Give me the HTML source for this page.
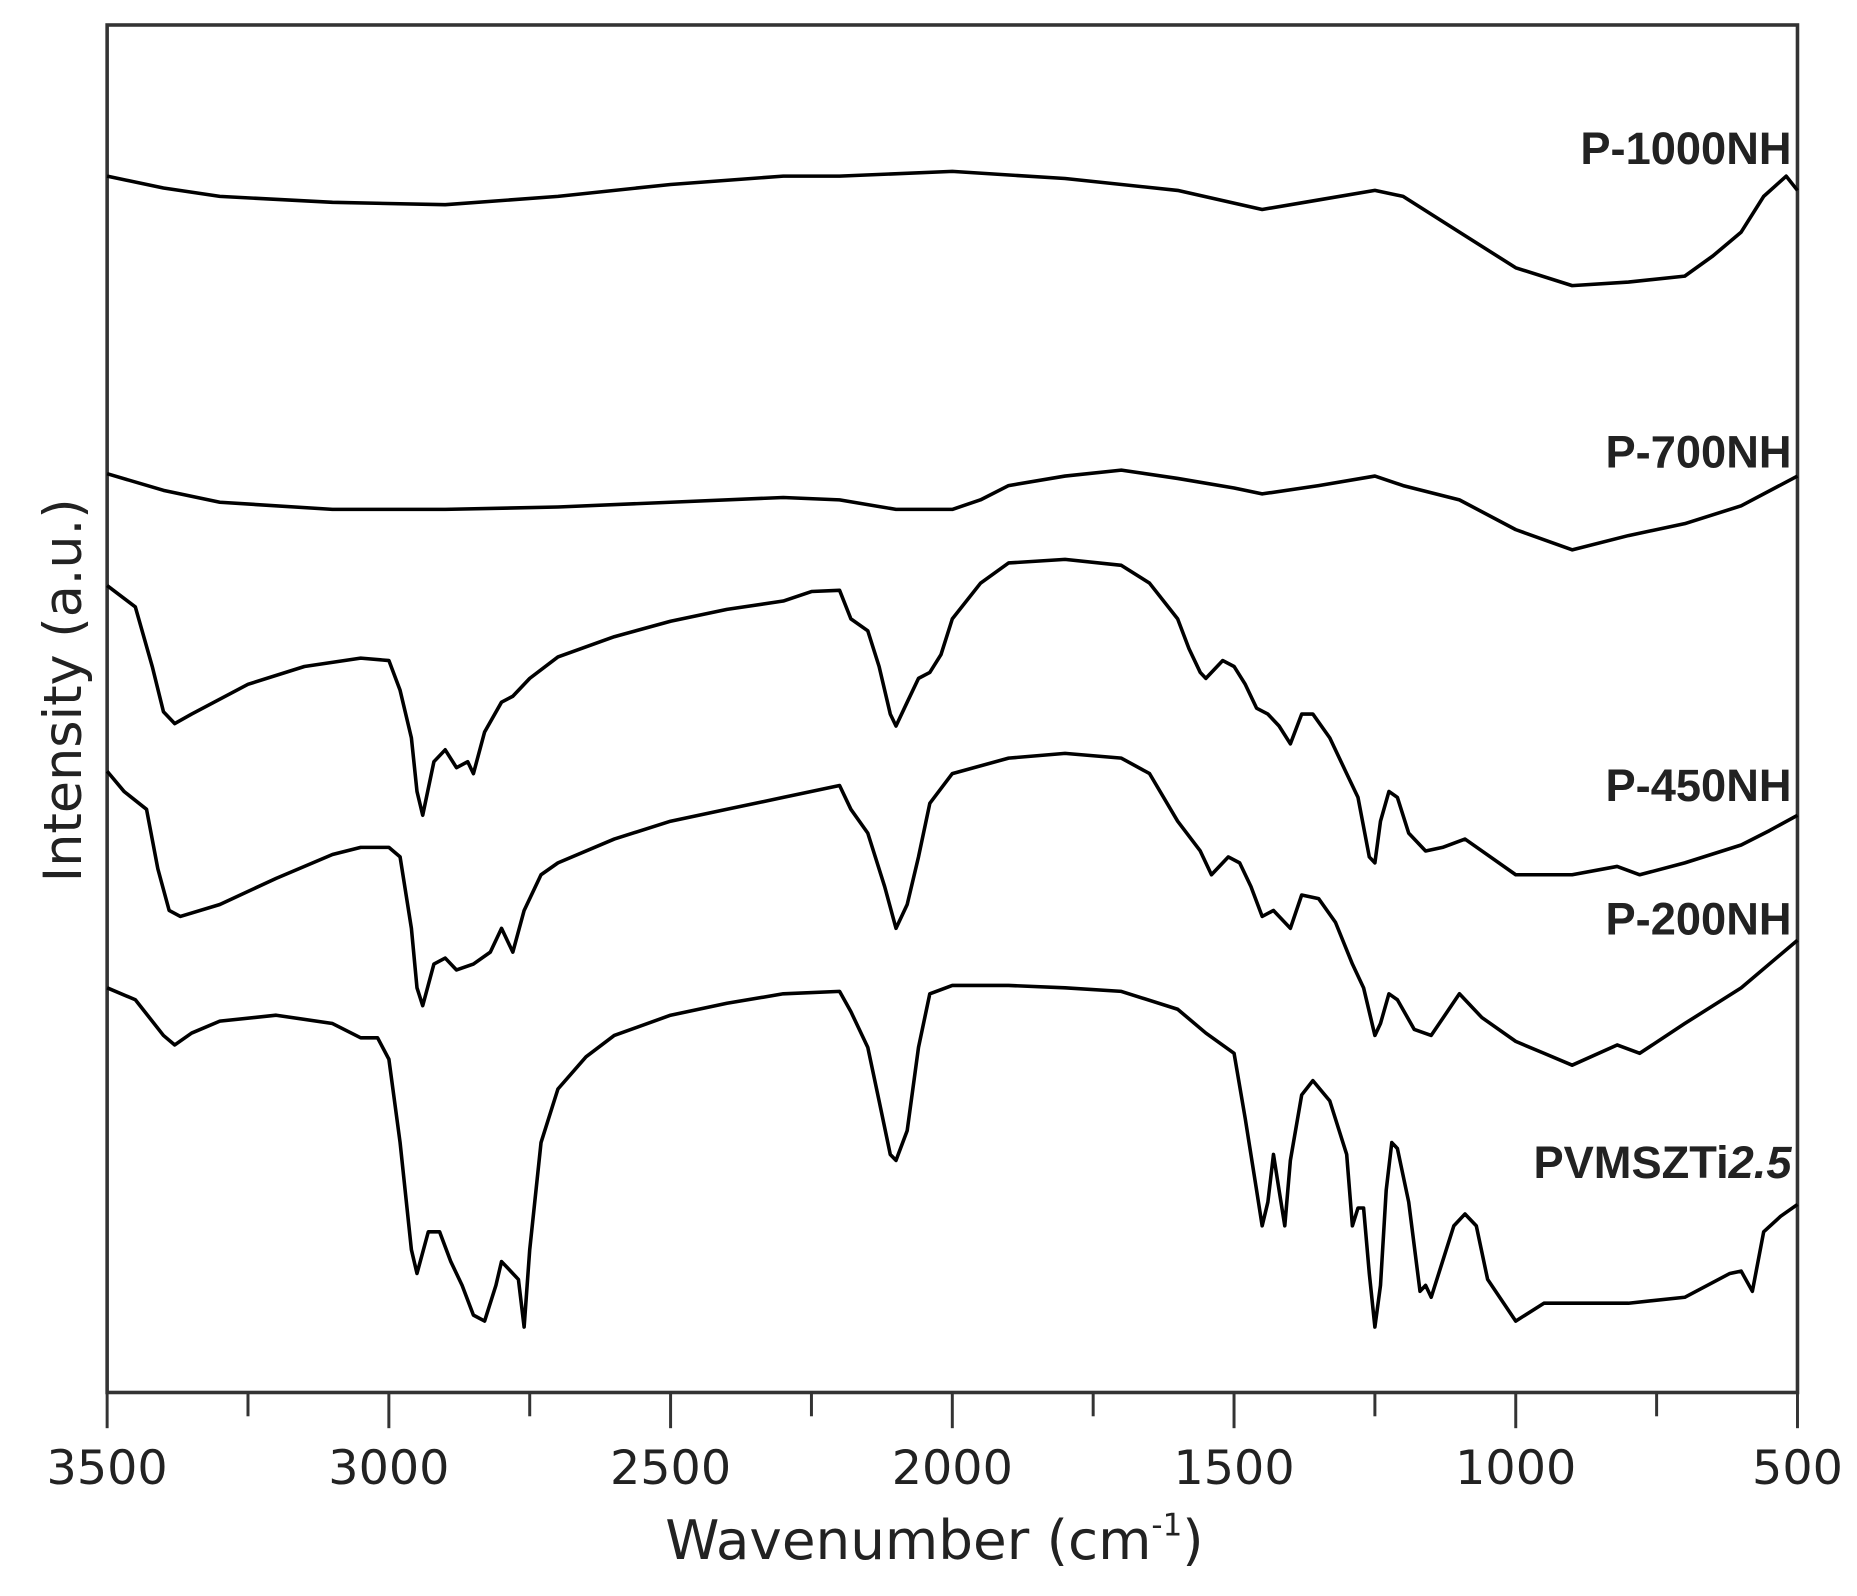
<!DOCTYPE html>
<html><head><meta charset="utf-8"><style>
html,body{margin:0;padding:0;background:#fff;}
svg{display:block;}
</style></head><body>
<svg id="s" width="1857" height="1596" viewBox="0 0 1560 1341" preserveAspectRatio="none" xmlns="http://www.w3.org/2000/svg">
<rect x="0" y="0" width="1560" height="1341" fill="#fff"/>
<rect x="90" y="21" width="1420" height="1149" fill="none" stroke="#333" stroke-width="3"/>
<g id="ticks" stroke="#333" stroke-width="2.5"></g>
<g id="curves" fill="none" stroke="#000" stroke-width="3" stroke-linejoin="round"></g>
<g font-family="'DejaVu Sans','Liberation Sans',sans-serif" font-size="40" fill="#222" text-anchor="middle">
<text x="90" y="1247">3500</text><text x="326.7" y="1247">3000</text><text x="563.3" y="1247">2500</text>
<text x="800" y="1247">2000</text><text x="1036.7" y="1247">1500</text><text x="1273.3" y="1247">1000</text>
<text x="1510" y="1247">500</text>
<text x="785" y="1310" font-size="46">Wavenumber (cm<tspan dy="-20" font-size="26">-1</tspan><tspan dy="20">)</tspan></text>
<text transform="translate(68,580) rotate(-90)" font-size="44">Intensity (a.u.)</text>
</g>
<g font-family="'Liberation Sans',sans-serif" font-weight="bold" font-size="38" fill="#222" text-anchor="end">
<text x="1505" y="138">P-1000NH</text>
<text x="1505" y="393">P-700NH</text>
<text x="1505" y="673">P-450NH</text>
<text x="1505" y="785">P-200NH</text>
<text x="1505" y="990">PVMSZTi<tspan font-style="italic">2.5</tspan></text>
</g>
</svg>
<script>
var ns="http://www.w3.org/2000/svg";
function X(w){return 90+(3500-w)*1420/3000;}
var tg=document.getElementById('ticks');
for(var w=3500;w>=500;w-=250){var l=document.createElementNS(ns,'line');var x=X(w);l.setAttribute('x1',x);l.setAttribute('x2',x);l.setAttribute('y1',1170);l.setAttribute('y2',(w%500==0)?1200:1190);tg.appendChild(l);}
var D=[
[3500,148,3400,158,3300,165,3100,170,2900,172,2700,165,2500,155,2300,148,2200,148,2000,144,1800,150,1600,160,1450,176,1350,168,1250,160,1200,165,1100,195,1000,225,900,240,800,237,700,232,650,215,600,195,560,165,520,148,500,160],
[3500,398,3400,412,3300,422,3100,428,2900,428,2700,426,2500,422,2300,418,2200,420,2100,428,2000,428,1950,420,1900,408,1800,400,1700,395,1600,402,1500,410,1450,415,1350,408,1250,400,1200,408,1100,420,1000,445,900,462,800,450,700,440,600,425,500,400],
[3500,492,3450,510,3420,560,3400,598,3380,608,3350,600,3250,575,3150,560,3050,553,3000,555,2980,580,2960,620,2950,665,2940,685,2920,640,2900,630,2880,645,2860,640,2850,650,2830,615,2800,590,2780,585,2750,570,2700,552,2600,535,2500,522,2400,512,2300,505,2250,497,2200,496,2180,520,2150,530,2130,560,2110,600,2100,610,2080,590,2060,570,2040,565,2020,550,2000,520,1950,490,1900,473,1800,470,1700,475,1650,490,1600,520,1580,545,1560,565,1550,570,1520,555,1500,560,1480,575,1460,595,1440,600,1420,610,1400,625,1380,600,1360,600,1330,620,1300,650,1280,670,1260,720,1250,725,1240,690,1225,665,1210,670,1190,700,1160,715,1130,712,1090,705,1060,715,1000,735,900,735,820,728,780,735,700,725,600,710,550,698,500,685],
[3500,648,3470,665,3430,680,3410,730,3390,765,3370,770,3300,760,3200,738,3100,718,3050,712,3000,712,2980,720,2960,780,2950,830,2940,845,2920,810,2900,805,2880,815,2850,810,2820,800,2800,780,2780,800,2760,765,2730,735,2700,725,2600,705,2500,690,2400,680,2300,670,2200,660,2180,680,2150,700,2120,745,2100,780,2080,760,2060,720,2040,675,2000,650,1900,637,1800,633,1700,637,1650,650,1600,690,1560,715,1540,735,1510,720,1490,725,1470,745,1450,770,1430,765,1400,780,1380,752,1350,755,1320,775,1290,810,1270,830,1250,870,1240,860,1225,835,1210,840,1180,865,1150,870,1100,835,1060,855,1000,875,950,885,900,895,820,878,780,885,700,860,600,830,500,790],
[3500,830,3450,840,3400,870,3380,878,3350,868,3300,858,3200,853,3100,860,3050,872,3020,872,3000,890,2980,960,2960,1050,2950,1070,2930,1035,2910,1035,2890,1060,2870,1080,2850,1105,2830,1110,2810,1080,2800,1060,2790,1065,2770,1075,2760,1115,2750,1050,2730,960,2700,915,2650,888,2600,870,2500,853,2400,843,2300,835,2200,833,2180,850,2150,880,2130,925,2110,970,2100,975,2080,950,2060,880,2040,835,2000,828,1900,828,1800,830,1700,833,1600,848,1550,868,1500,885,1480,940,1460,1000,1450,1030,1440,1010,1430,970,1420,1000,1410,1030,1400,975,1380,920,1360,908,1330,925,1300,970,1290,1030,1280,1015,1270,1015,1260,1070,1250,1115,1240,1080,1230,1000,1220,960,1210,965,1190,1010,1170,1085,1160,1080,1150,1090,1130,1060,1110,1030,1090,1020,1070,1030,1050,1075,1000,1110,950,1095,900,1095,800,1095,700,1090,620,1070,600,1068,580,1085,560,1035,530,1022,500,1012]
];
var cg=document.getElementById('curves');
D.forEach(function(a){var p=[];for(var i=0;i<a.length;i+=2)p.push(X(a[i]).toFixed(1)+','+a[i+1]);var e=document.createElementNS(ns,'polyline');e.setAttribute('points',p.join(' '));cg.appendChild(e);});
</script>
</body></html>
